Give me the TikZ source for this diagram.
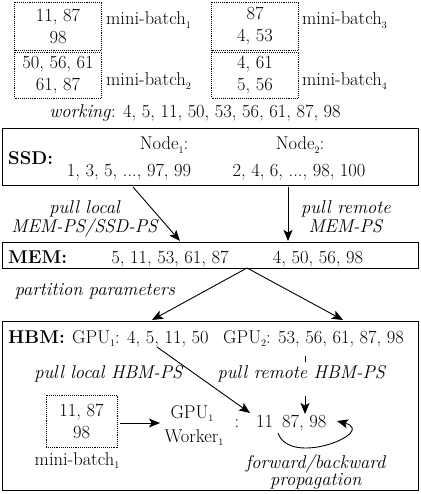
\documentclass[tikz,border=0pt]{standalone}
\usetikzlibrary{arrows.meta}
\newcommand{\sbs}[1]{\raisebox{-3.5pt}{\fontsize{10}{10}\selectfont #1}}
\begin{document}
\begin{tikzpicture}[x=1pt,y=-1pt,font=\fontsize{18.5}{22}\selectfont,
  txt/.style={inner sep=0pt},
  dotbox/.style={draw, densely dotted, line width=0.9pt, inner sep=0pt, align=center, minimum width=87pt},
  bigbox/.style={draw, line width=1.1pt, inner sep=0pt, minimum width=416pt, anchor=north west},
  arr/.style={line width=0.9pt, -{Stealth[length=11pt,width=9pt,inset=2.5pt]}}]
\useasboundingbox (0,0) rectangle (420,494);
% mini-batches
\node[dotbox, minimum height=48pt] (b1) at (58,26) {11, 87\\98};
\node[dotbox, minimum height=46pt] (b2) at (58,75) {50, 56, 61\\61, 87};
\node[dotbox, minimum height=48pt] (b3) at (255,26) {87\\4, 53};
\node[dotbox, minimum height=46pt] (b4) at (255,75) {4, 61\\5, 56};
\node[txt, anchor=base west] (m1) at (106,25) {mini-batch\sbs{1}};
\node[txt, anchor=base west] (m2) at (106,86) {mini-batch\sbs{2}};
\node[txt, anchor=base west] (m3) at (302,25) {mini-batch\sbs{3}};
\node[txt, anchor=base west] (m4) at (302,86) {mini-batch\sbs{4}};
\node[txt, anchor=base] (work) at (195,118) {\textit{working}: 4, 5, 11, 50, 53, 56, 61, 87, 98};
% SSD
\node[bigbox, minimum height=57pt] (ssd) at (2,128) {};
\node[txt, anchor=base west] (ssdl) at (8,165) {\textbf{SSD:}};
\node[txt, anchor=base] (n1) at (164,150) {Node\sbs{1}:};
\node[txt, anchor=base] (n2) at (300,150) {Node\sbs{2}:};
\node[txt, anchor=base] (v1) at (129,176) {1, 3, 5, ..., 97, 99};
\node[txt, anchor=base] (v2) at (299,176) {2, 4, 6, ..., 98, 100};
% MEM
\node[bigbox, minimum height=26pt] (mem) at (2,242) {};
\node[txt, anchor=base west] (meml) at (8,263) {\textbf{MEM:}};
\node[txt, anchor=base] (mv1) at (170,263) {5, 11, 53, 61, 87};
\node[txt, anchor=base] (mv2) at (318,263) {4, 50, 56, 98};
\coordinate (s1) at (133,187);
\coordinate (e1) at (180,241);
\coordinate (s2) at (288,187);
\coordinate (e2) at (288,241);
\draw[arr] (s1) -- (e1);
\draw[arr] (s2) -- (e2);
\node[txt, align=center, anchor=base] (pl) at (85,232) {\textit{pull local}\\[-3pt]\textit{MEM-PS/SSD-PS}};
\node[txt, align=center, anchor=base] (pr) at (346,232) {\textit{pull remote}\\[-3pt]\textit{MEM-PS}};
% partition
\coordinate (ps) at (247,268);
\coordinate (pe1) at (152,320);
\coordinate (pe2) at (343,320);
\draw[arr] (ps) -- (pe1);
\draw[arr] (ps) -- (pe2);
\node[txt, anchor=base] (part) at (95,295) {\textit{partition parameters}};
% HBM
\node[bigbox, minimum height=169pt] (hbm) at (2,321) {};
\node[txt, anchor=base west] (hbml) at (8,343) {\textbf{HBM:}};
\node[txt, anchor=base west] (g1) at (72,343) {GPU\sbs{1}: 4, 5, 11, 50};
\node[txt, anchor=base west] (g2) at (223,343) {GPU\sbs{2}: 53, 56, 61, 87, 98};
\node[txt, anchor=base] (plh) at (109,378) {\textit{pull local HBM-PS}};
\node[txt, anchor=base] (prh) at (302,378) {\textit{pull remote HBM-PS}};
\node[dotbox, minimum width=71pt, minimum height=52pt] (b5) at (81.5,421) {11, 87\\98};
\node[txt, anchor=base] (m5) at (77,465) {mini-batch\sbs{1}};
\node[txt, anchor=base] (gw1) at (192,418) {GPU\sbs{1}};
\node[txt, anchor=base] (gw2) at (194,442) {Worker\sbs{1}};
\node[txt, anchor=base] (colon) at (237,427) {:};
\node[txt, anchor=base west] (p11) at (256,427) {11};
\node[txt, anchor=base west] (p87) at (282,427) {87, 98};
\coordinate (wa) at (120,423);
\coordinate (wb) at (160,423);
\draw[arr] (wa) -- (wb);
\coordinate (ga) at (157,347);
\coordinate (gb) at (250,413);
\draw[arr] (ga) -- (gb);
\coordinate (ra) at (305,356);
\coordinate (rb) at (305,362);
\coordinate (rc) at (305,396);
\coordinate (rd) at (305,414);
\draw[line width=0.9pt] (ra) -- (rb);
\draw[arr] (rc) -- (rd);
\coordinate (cs) at (278,433);
\coordinate (ce) at (337,421);
\draw[arr] (cs) .. controls (290,468) and (378,432) .. (ce);
\node[txt, align=center, anchor=base] (fb) at (316,485) {\textit{forward/backward}\\[-5pt]\textit{propagation}};
\end{tikzpicture}
\end{document}
